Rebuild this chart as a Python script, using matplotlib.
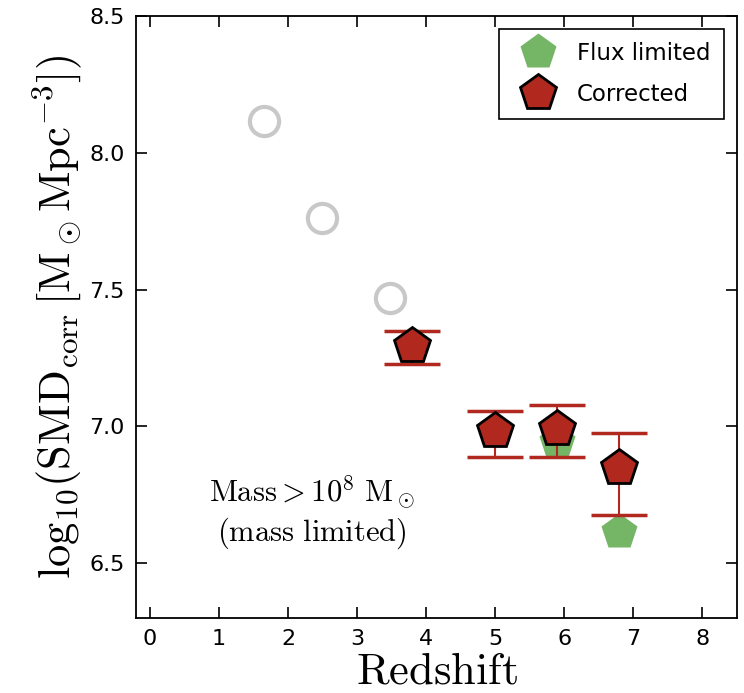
import numpy as np
import matplotlib
matplotlib.use("Agg")
matplotlib.rcParams.update({'mathtext.fontset': 'cm', 'font.size': 16})
import matplotlib.pyplot as plt

# grey open circles (lower-z literature points)
z_lit = [1.65, 2.49, 3.47]
smd_lit = [8.117, 7.763, 7.47]

# flux limited and corrected values
z = [3.8, 5.0, 5.89, 6.79]
smd_flux = [7.29, 6.985, 6.945, 6.613]
smd_corr = [7.293, 6.985, 6.99, 6.85]
err_lo = [0.063, 0.095, 0.10, 0.175]
err_hi = [0.057, 0.07, 0.09, 0.125]

red = '#B0281E'
green = '#74B566'

fig = plt.figure(figsize=(7.44, 6.93), dpi=100)
ax = fig.add_axes([136 / 744, 1 - 618 / 693, (737 - 136) / 744, (618 - 16) / 693])

ax.plot(z_lit, smd_lit, 'o', ms=21, mfc='none', mec='#c8c8c8', mew=3)
ax.plot(z, smd_flux, 'p', ms=27, color=green, mec='none', label='Flux limited')
ax.errorbar(z, smd_corr, yerr=[err_lo, err_hi], fmt='none', ecolor=red,
            elinewidth=1.5, capsize=20, capthick=2.5)
ax.plot(z, smd_corr, 'p', ms=27, mfc=red, mec='black', mew=2, label='Corrected')

ax.text(2.34, 6.687, '$\\mathrm{Mass} > 10^8\\ \\mathrm{M}_\\odot$\n$(\\mathrm{mass\\ limited})$',
        ha='center', va='center', fontsize=22, linespacing=1.15)

ax.set_xlim(-0.2, 8.5)
ax.set_ylim(6.3, 8.5)
ax.set_xticks(range(0, 9))
ax.set_yticks([6.5, 7.0, 7.5, 8.0, 8.5])
ax.set_yticklabels(['6.5', '7.0', '7.5', '8.0', '8.5'])
ax.tick_params(direction='in', length=8, width=1.2, top=True, right=True, labelsize=16, pad=8)
for s in ax.spines.values():
    s.set_linewidth(1.3)

ax.set_xlabel('$\\mathrm{Redshift}$', fontsize=32, labelpad=0)
ax.set_ylabel('$\\mathrm{log}_{10}(\\mathrm{SMD}_{\\mathrm{corr}}\\,[\\mathrm{M}_\\odot\\mathrm{Mpc}^{-3}])$',
              fontsize=32, labelpad=4)

leg = ax.legend(loc='upper right', fontsize=16.5, numpoints=1, fancybox=False,
                edgecolor='black', framealpha=1, borderpad=0.6, handletextpad=0.6,
                borderaxespad=0.55, labelspacing=0.75, handlelength=2.2)
leg.get_frame().set_linewidth(1.2)

fig.savefig('out.png', dpi=100)
